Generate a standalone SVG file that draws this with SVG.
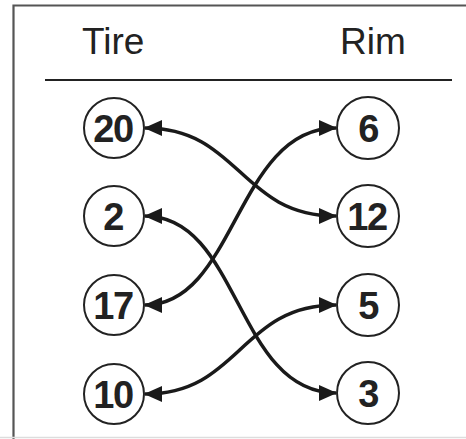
<svg xmlns="http://www.w3.org/2000/svg" width="466" height="439" viewBox="0 0 466 439">
<style>
.hdr{font-family:"Liberation Sans",Arial,sans-serif;font-size:37px;fill:#222}
.nc{fill:#fff;stroke:#222;stroke-width:2}
.nt{font-family:"Liberation Sans",Arial,sans-serif;font-size:38px;font-weight:bold;fill:#222;text-anchor:middle;letter-spacing:-1.5px}
.ed{fill:none;stroke:#1a1a1a;stroke-width:3.5}
</style>
<defs>
<marker id="ah" viewBox="0 0 18 16" refX="17" refY="8" markerWidth="18" markerHeight="16" markerUnits="userSpaceOnUse" orient="auto-start-reverse">
<path d="M0,0 L18,8 L0,16 Z" fill="#1a1a1a"/>
</marker>
</defs>
<rect width="466" height="439" fill="#fff"/>
<path d="M13.5 439 V5.5 H466" fill="none" stroke="#555" stroke-width="2.2"/>
<line x1="0" y1="437.5" x2="466" y2="437.5" stroke="#ddd" stroke-width="1.5"/>
<g id="header">
<text class="hdr" x="82" y="54">Tire</text>
<text class="hdr" x="340" y="54">Rim</text>
<line x1="45" y1="80" x2="452" y2="80" stroke="#222" stroke-width="2"/>
</g>
<g id="connectors">
<path class="ed" d="M145 128 C240 128 240 216 336 216" marker-start="url(#ah)" marker-end="url(#ah)"/>
<path class="ed" d="M336 128 C236 128 236 305 145 305" marker-start="url(#ah)" marker-end="url(#ah)"/>
<path class="ed" d="M145 216 C240 216 236 393 336 393" marker-start="url(#ah)" marker-end="url(#ah)"/>
<path class="ed" d="M336 305 C240 305 240 394 145 394" marker-start="url(#ah)" marker-end="url(#ah)"/>
</g>
<g id="t20"><circle class="nc" cx="114" cy="128" r="30"/><text class="nt" x="113" y="141.5">20</text></g>
<g id="t2"><circle class="nc" cx="114" cy="216" r="30"/><text class="nt" x="113" y="229.5">2</text></g>
<g id="t17"><circle class="nc" cx="114" cy="305" r="30"/><text class="nt" x="113" y="318.5">17</text></g>
<g id="t10"><circle class="nc" cx="114" cy="394" r="30"/><text class="nt" x="113" y="407.5">10</text></g>
<g id="r6"><circle class="nc" cx="368" cy="128" r="31"/><text class="nt" x="368" y="141.5">6</text></g>
<g id="r12"><circle class="nc" cx="368" cy="216" r="31"/><text class="nt" x="367" y="229.5">12</text></g>
<g id="r5"><circle class="nc" cx="368" cy="305" r="31"/><text class="nt" x="368" y="318.5">5</text></g>
<g id="r3"><circle class="nc" cx="368" cy="393" r="31"/><text class="nt" x="368" y="406.5">3</text></g>
</svg>
